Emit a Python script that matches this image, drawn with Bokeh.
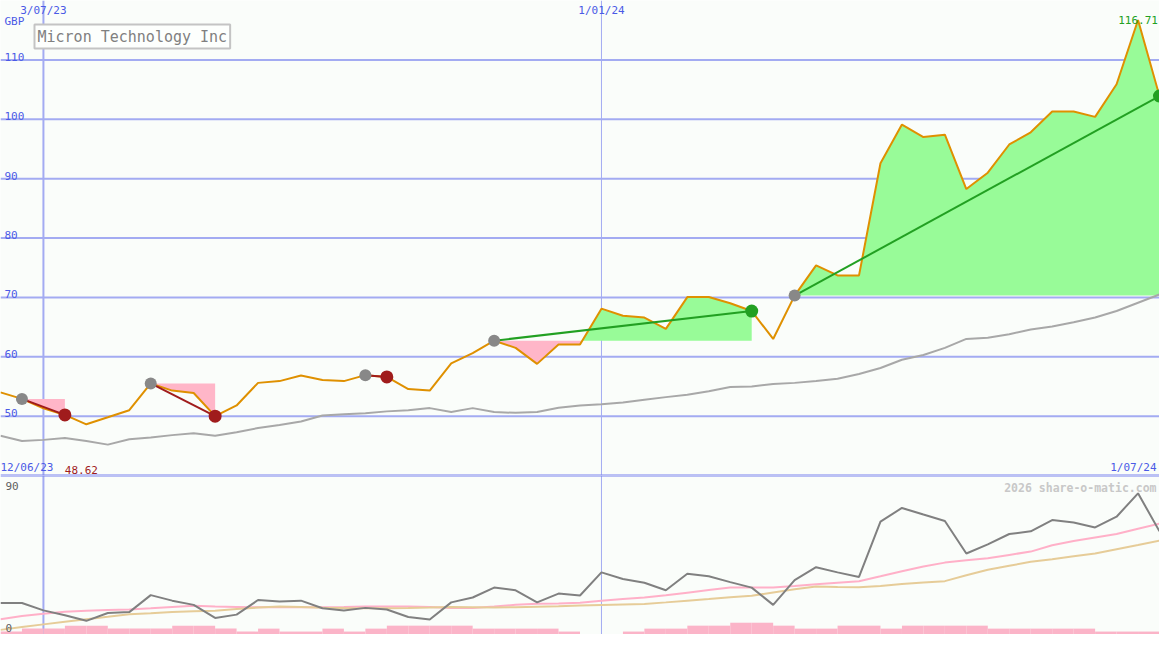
import numpy as np
from bokeh.plotting import figure
from bokeh.models import Range1d, Span, Label
from bokeh.layouts import column
from bokeh.embed import file_html
from bokeh.resources import INLINE

# ---------------- data ----------------
title_text = "Micron Technology Inc"
currency = "GBP"
date_tick_labels = ["3/07/23", "1/01/24"]
date_tick_weeks = [2, 28]
start_label = "12/06/23"
end_label = "1/07/24"
copyright_text = "2026 share-o-matic.com"

# weekly closing prices (GBP), week 0 .. 54
price = [54.0, 52.9, 51.3, 50.2, 48.62, 49.8, 51.0, 55.5, 54.3, 53.9,
         50.0, 51.8, 55.6, 55.9, 56.85, 56.1, 55.9, 56.9, 56.6, 54.55,
         54.3, 58.9, 60.6, 62.7, 61.5, 58.8, 62.05, 62.05, 68.1, 66.9,
         66.6, 64.7, 70.05, 70.05, 69.0, 67.7, 63.0, 70.3, 75.4, 73.7,
         73.7, 92.6, 99.1, 97.0, 97.4, 88.25, 91.0, 95.75, 97.8, 101.3,
         101.3, 100.4, 105.9, 116.71, 103.9]

# long moving average of price
price_ma = [46.7, 45.8, 46.0, 46.3, 45.8, 45.2, 46.1, 46.4, 46.8, 47.1,
            46.7, 47.3, 48.0, 48.5, 49.1, 50.1, 50.3, 50.5, 50.8, 51.0,
            51.35, 50.7, 51.35, 50.7, 50.55, 50.7, 51.4, 51.8, 52.0, 52.3,
            52.75, 53.2, 53.6, 54.2, 54.9, 55.0, 55.4, 55.6, 55.9, 56.3,
            57.1, 58.1, 59.5, 60.3, 61.5, 63.0, 63.2, 63.8, 64.6, 65.1,
            65.8, 66.6, 67.7, 69.1, 70.5]

# lower panel indicator (0..90 scale) and its two averages
indicator = [18.8, 18.8, 14.1, 11.0, 7.45, 12.4, 13.0, 23.8, 20.3, 17.6,
             9.3, 11.4, 20.7, 19.7, 20.3, 15.5, 14.1, 15.7, 14.7, 9.9,
             8.3, 19.2, 22.3, 28.6, 26.9, 19.2, 24.8, 23.6, 38.3, 34.1,
             31.7, 26.9, 37.4, 35.8, 32.1, 28.6, 17.6, 33.3, 41.6, 38.3,
             35.4, 70.6, 79.3, 75.1, 71.0, 50.3, 56.1, 62.7, 64.4, 71.6,
             70.0, 66.9, 73.7, 88.6, 64.4]
indicator_fast = [8.5, 10.5, 12.0, 13.3, 13.9, 14.3, 14.7, 15.4, 16.3, 17.0,
                  16.5, 16.3, 16.1, 16.1, 16.1, 16.1, 16.2, 16.5, 16.6, 16.5,
                  16.2, 15.6, 15.6, 16.5, 17.7, 18.3, 18.5, 19.0, 20.3, 21.3,
                  22.3, 23.8, 25.4, 27.0, 28.6, 28.6, 28.6, 29.6, 30.7, 31.7,
                  32.7, 35.8, 39.0, 42.0, 44.5, 46.0, 47.3, 49.4, 51.5, 55.5,
                  58.3, 60.5, 62.7, 66.0, 69.3]
indicator_slow = [1.7, 3.5, 5.2, 6.9, 8.5, 10.0, 11.6, 12.3, 13.1, 13.5,
                  13.9, 15.0, 15.9, 16.6, 16.2, 15.8, 15.6, 15.5, 15.5, 15.6,
                  15.9, 16.3, 16.1, 15.9, 16.1, 16.4, 16.7, 17.2, 17.6, 17.9,
                  18.2, 19.2, 20.3, 21.3, 22.4, 23.4, 25.5, 27.5, 29.3, 29.0,
                  28.8, 29.6, 30.9, 31.8, 32.7, 36.5, 40.0, 42.5, 45.0, 46.6,
                  48.5, 50.3, 53.0, 55.7, 58.5]

# weekly volume (relative units), weeks 0 .. 53
volume = [1, 2, 2, 3, 3, 2, 2, 2, 3, 3,
          2, 1, 2, 1, 1, 2, 1, 2, 3, 3,
          3, 3, 2, 2, 2, 2, 1, 0, 0, 1,
          2, 2, 3, 3, 4, 4, 3, 2, 2, 3,
          3, 2, 3, 3, 3, 3, 2, 2, 2, 2,
          2, 1, 1, 1]

# trade signals: start week, end week, result
signal_start = [1, 7, 17, 23, 37]
signal_end = [3, 10, 18, 35, 54]
signal_kind = ["sell", "sell", "sell", "buy", "buy"]

price_ticks = [50, 60, 70, 80, 90, 100, 110]
indicator_ticks = [0, 90]

# ---------------- styling ----------------
BG = "#fafdfa"
GRID = "#a3abf2"
SEP = "#7a84ee"
BLUE_TXT = "#4a5ae6"
ORANGE = "#df9000"
GREEN_FILL = "#98fb98"
PINK_FILL = "#ffb6c8"
GREEN = "#22a022"
DARKRED = "#a01c1c"
FONT = "DejaVu Sans Mono"

W = 1159
H1 = 475
H2 = 159
NW = len(price) - 1
weeks = list(range(len(price)))

p = figure(width=W, height=H1, x_range=Range1d(0, NW), y_range=Range1d(40, 120),
           output_backend="svg", toolbar_location=None, min_border=0,
           x_axis_type=None, y_axis_type=None,
           background_fill_color=BG, border_fill_color=BG, outline_line_color=None)
p.grid.visible = False

for t in price_ticks:
    p.add_layout(Span(location=t, dimension="width", line_color=GRID, line_width=2, level="underlay"))
for wk, lw in zip(date_tick_weeks, [2, 1]):
    p.add_layout(Span(location=wk, dimension="height", line_color=GRID, line_width=lw, level="underlay"))
p.add_layout(Span(location=40, dimension="width", line_color=SEP, line_width=2))

# fills for each signal
for s, e in zip(signal_start, signal_end):
    lvl = price[s]
    xs, ys = [], []
    for k in range(s, e + 1):
        xs.append(k)
        ys.append(price[k])
        if k < e:
            a, b = price[k] - lvl, price[k + 1] - lvl
            if a * b < 0:
                xs.append(k + a / (a - b))
                ys.append(lvl)
    xs = np.array(xs, float)
    ys = np.array(ys, float)
    lv = np.full_like(ys, lvl)
    p.varea(x=xs, y1=lv, y2=np.maximum(ys, lv), fill_color=GREEN_FILL, fill_alpha=1)
    p.varea(x=xs, y1=np.minimum(ys, lv), y2=lv, fill_color=PINK_FILL, fill_alpha=1)

p.line(weeks, price_ma, line_color="#a8a8a8", line_width=2)
p.line(weeks, price, line_color=ORANGE, line_width=2)

for s, e, kind in zip(signal_start, signal_end, signal_kind):
    c = GREEN if kind == "buy" else DARKRED
    p.line([s, e], [price[s], price[e]], line_color=c, line_width=2)
    p.scatter([s], [price[s]], size=12, fill_color="#888888", line_color=None)
    p.scatter([e], [price[e]], size=13, fill_color=c, line_color=None)

lab = dict(text_font=FONT, text_font_size="11px", text_color=BLUE_TXT)
p.add_layout(Label(x=4, x_units="screen", y=116.4, text=currency, text_baseline="alphabetic", **lab))
for t in price_ticks:
    p.add_layout(Label(x=4, x_units="screen", y=t, y_offset=3, text=str(t),
                       text_baseline="alphabetic", **lab))
for wk, txt in zip(date_tick_weeks, date_tick_labels):
    p.add_layout(Label(x=wk, y=118.4, text=txt, text_align="center",
                       text_baseline="alphabetic", **lab))
p.add_layout(Label(x=0, y=40, y_offset=2, text=start_label, text_baseline="bottom", **lab))
p.add_layout(Label(x=NW, y=40, x_offset=-3, y_offset=2, text=end_label, text_align="right",
                   text_baseline="bottom", **lab))

imax = int(np.argmax(price))
imin = int(np.argmin(price))
p.add_layout(Label(x=imax, y=price[imax], text=f"{price[imax]:.2f}", text_align="center",
                   text_baseline="middle", text_font=FONT, text_font_size="11px", text_color=GREEN))
p.add_layout(Label(x=imin, x_offset=-5, y=40, y_offset=2, text=f"{price[imin]:.2f}", text_align="center",
                   text_baseline="bottom", text_font=FONT, text_font_size="11px", text_color=DARKRED))

p.add_layout(Label(x=34, x_units="screen", y=H1 - 36, y_units="screen", text=title_text,
                   text_align="left", text_baseline="middle", text_font=FONT,
                   text_font_size="15px", text_color="#808080", padding=3,
                   border_line_color="#c4c4c4", border_line_width=2,
                   background_fill_color="#fdfffd"))

# ---------------- lower panel ----------------
q = figure(width=W, height=H2, x_range=p.x_range, y_range=Range1d(-1.24, 99.93),
           output_backend="svg", toolbar_location=None, min_border=0,
           x_axis_type=None, y_axis_type=None,
           background_fill_color=BG, border_fill_color=BG, outline_line_color=None)
q.grid.visible = False
q.extra_y_ranges = {"vol": Range1d(0, 54)}

q.vbar(x=[i + 0.5 for i in range(len(volume))], width=1.0, top=volume, bottom=0,
       y_range_name="vol", fill_color="#fbb4c8", line_color=None)
q.add_layout(Span(location=99.93, dimension="width", line_color=SEP, line_width=2))
for wk, lw in zip(date_tick_weeks, [2, 1]):
    q.add_layout(Span(location=wk, dimension="height", line_color=GRID, line_width=lw, level="underlay"))

q.line(weeks, indicator_fast, line_color="#ffb0c8", line_width=2)
q.line(weeks, indicator_slow, line_color="#e6cc98", line_width=2)
q.line(weeks, indicator, line_color="#808080", line_width=2)

for t in indicator_ticks:
    q.add_layout(Label(x=5, x_units="screen", y=t, y_offset=1, text=str(t), text_baseline="bottom",
                       text_font=FONT, text_font_size="11px", text_color="#606060"))
q.add_layout(Label(x=NW, x_offset=-3, y=91.9, text=copyright_text, text_align="right",
                   text_baseline="alphabetic", text_font=FONT, text_font_size="11.5px",
                   text_font_style="bold", text_color="#c8c8c8"))

layout = column(p, q, spacing=0)
open("out.html", "w").write(file_html(layout, INLINE))
